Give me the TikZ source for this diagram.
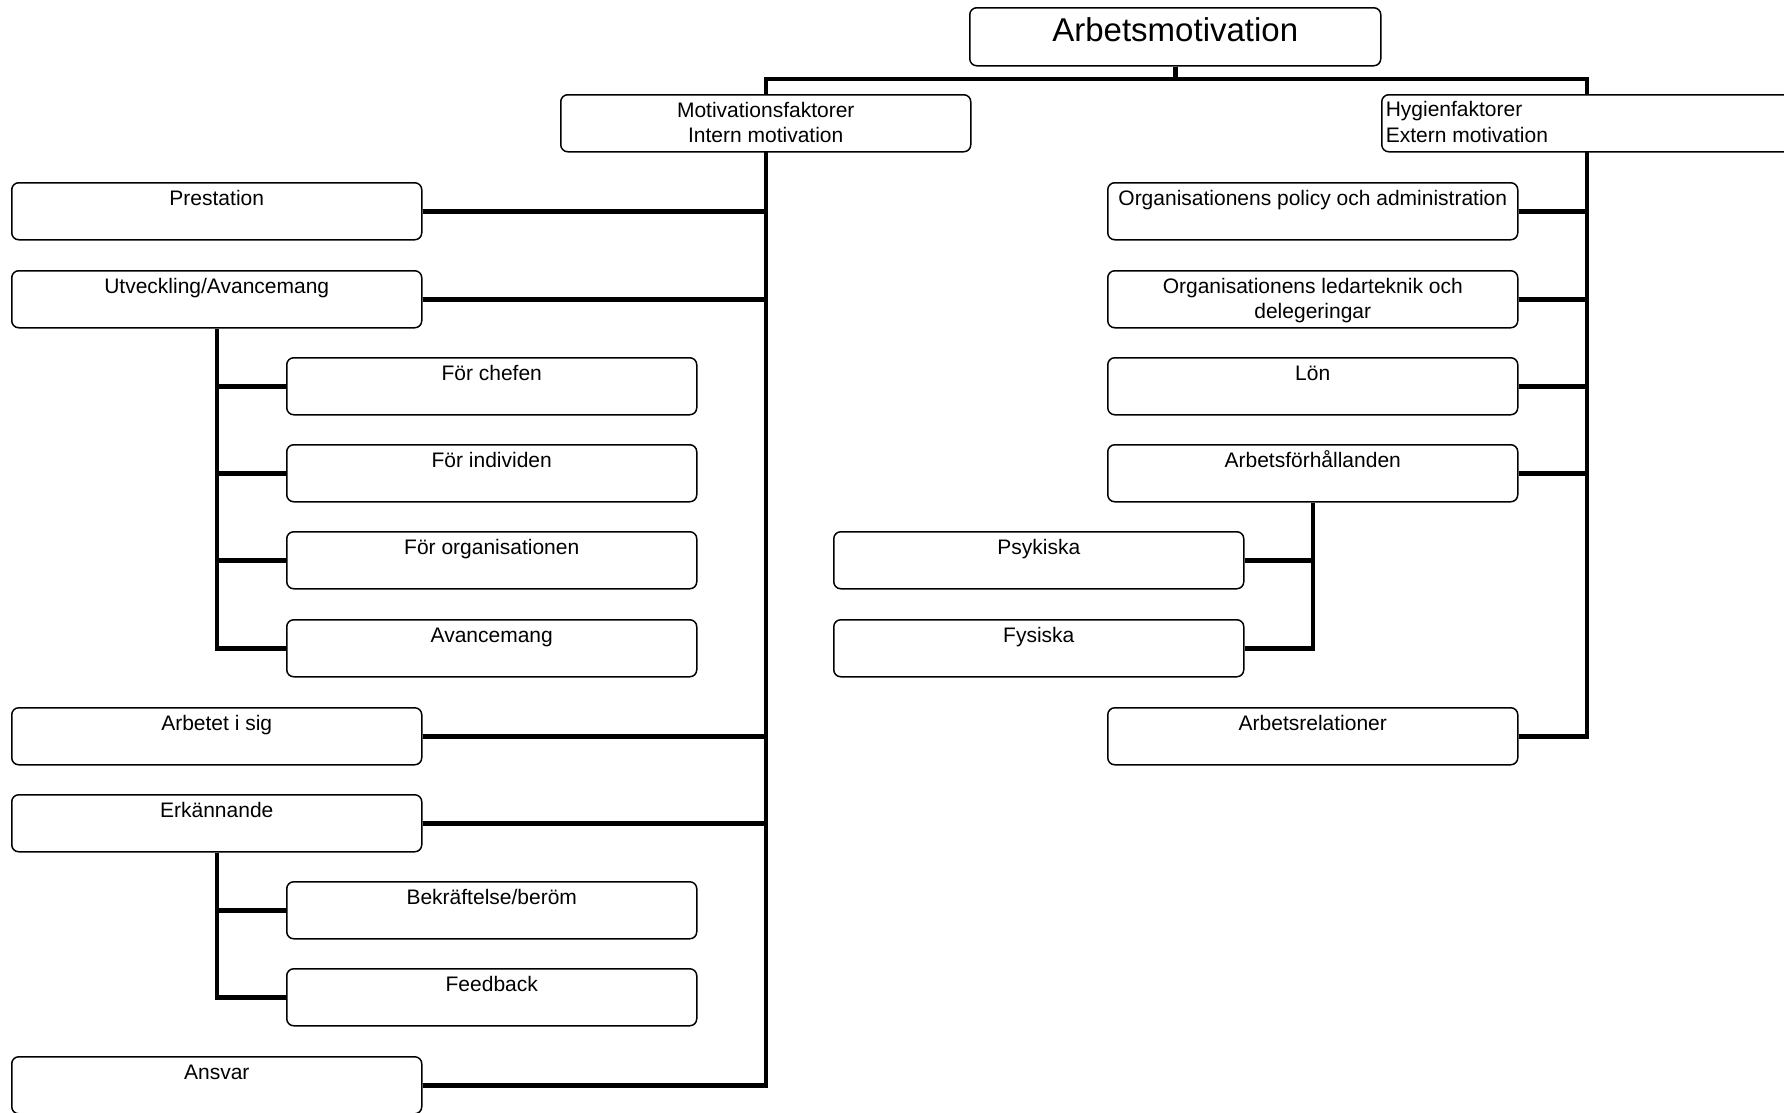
\documentclass[tikz,border=0pt]{standalone}
\usepackage{fontspec}
\setmainfont{Liberation Sans}
\usetikzlibrary{backgrounds}
\tikzset{
  x=1pt, y=-1pt,
  box/.style={draw=black, line width=1.5pt, rounded corners=7pt, fill=white, inner sep=0pt, anchor=north west},
  conn/.style={line width=4.5pt, line join=miter},
}
\newcommand{\bt}[1]{\parbox[t][57pt][t]{410pt}{\fontsize{21}{25}\selectfont\centering\rule{0pt}{23pt}#1}}
\newcommand{\btl}[1]{\parbox[t][57pt][t]{410pt}{\fontsize{21}{25.5}\selectfont\raggedright\leftskip=4pt\rule{0pt}{22pt}#1}}
\begin{document}
\begin{tikzpicture}
\useasboundingbox (0,0) rectangle (1784,1112);
% top
\node[box] (top) at (969,7) {\parbox[t][58pt][t]{411pt}{\fontsize{33}{38}\selectfont\centering\rule{0pt}{34pt}Arbetsmotivation}};
\node[box] (mot) at (560,94) {\bt{Motivationsfaktorer\\Intern motivation}};
\node[box] (hyg) at (1381,94) {\btl{Hygienfaktorer\\Extern motivation}};
% left column
\node[box] (prest) at (11,182) {\bt{Prestation}};
\node[box] (utv) at (11,270) {\bt{Utveckling/Avancemang}};
\node[box] (chef) at (286,357) {\bt{För chefen}};
\node[box] (indiv) at (286,444) {\bt{För individen}};
\node[box] (orgn) at (286,531) {\bt{För organisationen}};
\node[box] (avanc) at (286,619) {\bt{Avancemang}};
\node[box] (arbsig) at (11,707) {\bt{Arbetet i sig}};
\node[box] (erk) at (11,794) {\bt{Erkännande}};
\node[box] (bekr) at (286,881) {\bt{Bekräftelse/beröm}};
\node[box] (feed) at (286,968) {\bt{Feedback}};
\node[box] (ansvar) at (11,1056) {\bt{Ansvar}};
% right column
\node[box] (orgpol) at (1107,182) {\bt{Organisationens policy och administration}};
\node[box] (ledar) at (1107,270) {\bt{Organisationens ledarteknik och\\delegeringar}};
\node[box] (lon) at (1107,357) {\bt{Lön}};
\node[box] (arbf) at (1107,444) {\bt{Arbetsförhållanden}};
\node[box] (psyk) at (833,531) {\bt{Psykiska}};
\node[box] (fys) at (833,619) {\bt{Fysiska}};
\node[box] (arbrel) at (1107,707) {\bt{Arbetsrelationer}};
\path (mot.north) ++(0,-15) coordinate (barL);
\path (hyg.north) ++(0,-15) coordinate (barR);
\begin{scope}[on background layer]
\draw[conn] (top.south) -- (top.south |- barL);
\draw[conn] (ansvar.east) -| (barL) -- (barR) |- (arbrel.east);
\foreach \n in {prest,utv,arbsig,erk} \draw[conn] (\n.east) -- (\n.east -| barL);
\foreach \n in {orgpol,ledar,lon,arbf} \draw[conn] (\n.east) -- (\n.east -| barR);
\draw[conn] (utv.south) |- (avanc.west);
\foreach \n in {chef,indiv,orgn} \draw[conn] (\n.west -| utv.south) -- (\n.west);
\draw[conn] (erk.south) |- (feed.west);
\draw[conn] (bekr.west -| erk.south) -- (bekr.west);
\draw[conn] (arbf.south) |- (fys.east);
\draw[conn] (psyk.east -| arbf.south) -- (psyk.east);
\end{scope}
\end{tikzpicture}
\end{document}
